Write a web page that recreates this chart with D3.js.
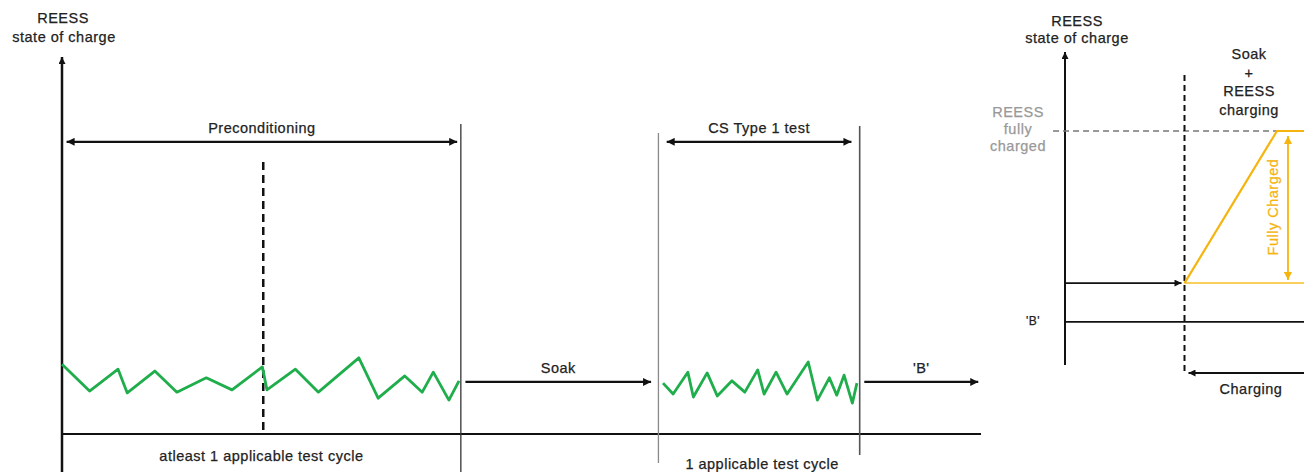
<!DOCTYPE html>
<html>
<head>
<meta charset="utf-8">
<script src="https://cdn.jsdelivr.net/npm/d3@7"></script>
<style>
  body { margin: 0; background: #fff; }
  text { font-family: "Liberation Sans", Arial, sans-serif; font-size: 14.5px; fill: #222;
         letter-spacing: 0.5px; stroke: #222; stroke-width: 0.25px; }
</style>
</head>
<body>
<div id="graph"></div>
<script>
// ---- data (time in arbitrary units 0-100, state of charge in % of axis) ----
// preconditioning cycles (green, left)
var preTime = [0, 3, 6.1, 7.1, 10.1, 12.5, 15.7, 18.5, 21.8, 22.3, 25.4, 27.9, 32.3, 34.4, 37.3, 39.2, 40.4, 42.1, 43.2];
var preSoc  = [18.5, 11.4, 17.2, 10.9, 16.7, 11.1, 14.9, 11.7, 17.8, 11.7, 17.2, 11.1, 20.2, 9.5, 15.4, 11.1, 16.4, 9.0, 14.1];
// CS Type 1 test cycle (green, middle)
var testTime = [65.4, 66.5, 68.1, 68.7, 70.2, 71.3, 72.9, 74.3, 75.7, 76.4, 77.7, 78.9, 81.2, 82.2, 83.5, 84.3, 85.1, 86.0, 86.5];
var testSoc  = [13.5, 10.6, 16.4, 9.8, 16.2, 10.1, 14.1, 11.1, 17.0, 10.6, 16.4, 10.6, 19.1, 9.0, 14.9, 10.3, 15.6, 8.2, 13.5];
// phase boundaries on the left time axis
var phaseBounds = [0, 21.9, 43.4, 64.9, 86.8, 100];
var phaseLabels = ["Preconditioning", "Soak", "CS Type 1 test", "'B'"];
var cycleLabels = ["atleast 1 applicable test cycle", "1 applicable test cycle"];
// right panel: charging profile (yellow)
var chargeTime = [50, 88.7, 100];
var chargeSoc  = [35, 100, 100];
var levelB = 18.4, levelStart = 35, levelFull = 100;
var rightLabels = ["Soak", "+", "REESS", "charging"];
var fullLabel = ["REESS", "fully", "charged"];

var W = 1304, H = 472;
var green = "#1fae4b", yellow = "#f6b40e";

var svg = d3.select("#graph").append("svg")
    .attr("width", W)
    .attr("height", H);

// arrow markers
var defs = svg.append("defs");
function marker(id, color, w, h) {
  defs.append("marker")
      .attr("id", id)
      .attr("markerUnits", "userSpaceOnUse")
      .attr("viewBox", "0 0 10 10")
      .attr("refX", 10).attr("refY", 5)
      .attr("markerWidth", w).attr("markerHeight", h)
      .attr("orient", "auto-start-reverse")
    .append("path")
      .attr("d", "M0,0 L10,5 L0,10 z")
      .style("fill", color);
}
marker("ah", "#111", 11, 8);
marker("ahs", "#111", 8, 7);
marker("ay", yellow, 10, 8);

// ---------------- left panel ----------------
var x = d3.scaleLinear().domain([0, 100]).range([62, 981]);
var y = d3.scaleLinear().domain([0, 100]).range([434, 57]);

function line(g, x1, y1, x2, y2) {
  return g.append("line").attr("x1", x1).attr("y1", y1).attr("x2", x2).attr("y2", y2);
}

var left = svg.append("g");

// y axis with arrow
line(left, x(0), H, x(0), y(100))
    .style("stroke", "#111").style("stroke-width", 2.5)
    .attr("marker-end", "url(#ahs)");
// baseline
line(left, x(0), y(0), x(100), y(0))
    .style("stroke", "#111").style("stroke-width", 2);

left.append("text").attr("x", x(0) + 1).attr("y", 23).attr("text-anchor", "middle").text("REESS");
left.append("text").attr("x", x(0) + 2).attr("y", 42).attr("text-anchor", "middle").text("state of charge");

// phase boundary lines
line(left, x(phaseBounds[2]), 124, x(phaseBounds[2]), H).style("stroke", "#333").style("stroke-width", 1.3);
line(left, x(phaseBounds[3]), 133, x(phaseBounds[3]), 463).style("stroke", "#8a8a8a").style("stroke-width", 1.3);
line(left, x(phaseBounds[4]), 126, x(phaseBounds[4]), 455).style("stroke", "#555").style("stroke-width", 1.6);
// dashed split between cycles
line(left, x(phaseBounds[1]), 162, x(phaseBounds[1]), y(0))
    .style("stroke", "#111").style("stroke-width", 2.5).style("stroke-dasharray", "8,5");

// green SOC traces
var valueline = d3.line()
    .x(function(d) { return x(d[0]); })
    .y(function(d) { return y(d[1]); });

[d3.zip(preTime, preSoc), d3.zip(testTime, testSoc)].forEach(function(s) {
  left.append("path")
      .datum(s)
      .attr("d", valueline)
      .style("fill", "none")
      .style("stroke", green)
      .style("stroke-width", 2.8)
      .style("stroke-linejoin", "round");
});

// double arrows: preconditioning and CS test
var topArrow = 77.5;
[[phaseBounds[0] + 0.5, phaseBounds[2] - 0.4, phaseLabels[0]],
 [phaseBounds[3] + 0.9, phaseBounds[4] - 0.9, phaseLabels[2]]].forEach(function(a) {
  line(left, x(a[0]), y(topArrow), x(a[1]), y(topArrow))
      .style("stroke", "#111").style("stroke-width", 2.2)
      .attr("marker-start", "url(#ah)").attr("marker-end", "url(#ah)");
  left.append("text")
      .attr("x", (x(a[0]) + x(a[1])) / 2)
      .attr("y", y(topArrow) - 9)
      .attr("text-anchor", "middle")
      .text(a[2]);
});

// single arrows: soak and 'B'
var midArrow = 13.8;
[[phaseBounds[2] + 0.5, phaseBounds[3] - 0.8, phaseLabels[1]],
 [phaseBounds[4] + 0.5, phaseBounds[5] - 0.3, phaseLabels[3]]].forEach(function(a) {
  line(left, x(a[0]), y(midArrow), x(a[1]), y(midArrow))
      .style("stroke", "#111").style("stroke-width", 2.2)
      .attr("marker-end", "url(#ah)");
  left.append("text")
      .attr("x", (x(a[0]) + x(a[1])) / 2)
      .attr("y", y(midArrow) - 9)
      .attr("text-anchor", "middle")
      .text(a[2]);
});

// cycle labels under the baseline
left.append("text").attr("x", x((phaseBounds[0] + phaseBounds[2]) / 2)).attr("y", 461)
    .attr("text-anchor", "middle").text(cycleLabels[0]);
left.append("text").attr("x", x((phaseBounds[3] + phaseBounds[4]) / 2) + 3).attr("y", 469)
    .attr("text-anchor", "middle").text(cycleLabels[1]);

// ---------------- right panel ----------------
var xR = d3.scaleLinear().domain([0, 100]).range([1065, 1304]);
var yR = d3.scaleLinear().domain([0, 100]).range([365, 131]);

var right = svg.append("g");

line(right, xR(0), yR(0), xR(0), 52)
    .style("stroke", "#111").style("stroke-width", 2)
    .attr("marker-end", "url(#ahs)");
right.append("text").attr("x", xR(0) + 12).attr("y", 26).attr("text-anchor", "middle").text("REESS");
right.append("text").attr("x", xR(0) + 12).attr("y", 43).attr("text-anchor", "middle").text("state of charge");

// full charge reference (grey dashed)
line(right, xR(-5), yR(levelFull), xR(chargeTime[1]), yR(levelFull))
    .style("stroke", "#777").style("stroke-width", 1.6).style("stroke-dasharray", "6,4");
fullLabel.forEach(function(t, i) {
  right.append("text").attr("x", 1018).attr("y", 117 + i * 17)
      .attr("text-anchor", "middle").style("fill", "#999").style("stroke", "#999").text(t);
});

// start of charging (dashed vertical)
line(right, xR(chargeTime[0]), 75, xR(chargeTime[0]), 373)
    .style("stroke", "#111").style("stroke-width", 2).style("stroke-dasharray", "6,4");

// level 'B'
line(right, xR(0), yR(levelB), xR(100), yR(levelB)).style("stroke", "#111").style("stroke-width", 1.8);
right.append("text").attr("x", 1033).attr("y", yR(levelB) + 3).attr("text-anchor", "middle")
    .style("font-size", "12px").text("'B'");

// arrow into the charging start
line(right, xR(0), yR(levelStart), xR(chargeTime[0]) - 3, yR(levelStart))
    .style("stroke", "#111").style("stroke-width", 1.8)
    .attr("marker-end", "url(#ahs)");

// yellow charging profile
right.append("line")
    .attr("x1", xR(chargeTime[0])).attr("y1", yR(levelStart))
    .attr("x2", xR(100)).attr("y2", yR(levelStart))
    .style("stroke", "#f8cf5a").style("stroke-width", 2);
right.append("path")
    .datum(d3.zip(chargeTime, chargeSoc))
    .attr("d", d3.line().x(function(d) { return xR(d[0]); }).y(function(d) { return yR(d[1]); }))
    .style("fill", "none").style("stroke", yellow).style("stroke-width", 2.2);

// fully charged double arrow
line(right, xR(93.3), yR(levelFull) + 5, xR(93.3), yR(levelStart) - 3)
    .style("stroke", yellow).style("stroke-width", 1.8)
    .attr("marker-start", "url(#ay)").attr("marker-end", "url(#ay)");
right.append("text")
    .attr("transform", "translate(" + (xR(93.3) - 10) + "," + yR((levelFull + levelStart) / 2) + ") rotate(-90)")
    .attr("text-anchor", "middle").style("fill", yellow).style("stroke", yellow).text("Fully Charged");

// labels above
rightLabels.forEach(function(t, i) {
  right.append("text").attr("x", 1249).attr("y", 59 + i * 18.5)
      .attr("text-anchor", "middle").text(t);
});

// charging arrow (pointing back to the start)
line(right, xR(100), 373, xR(chargeTime[0]) + 4, 373)
    .style("stroke", "#111").style("stroke-width", 2)
    .attr("marker-end", "url(#ahs)");
right.append("text").attr("x", 1251).attr("y", 394).attr("text-anchor", "middle").text("Charging");
</script>
</body>
</html>
